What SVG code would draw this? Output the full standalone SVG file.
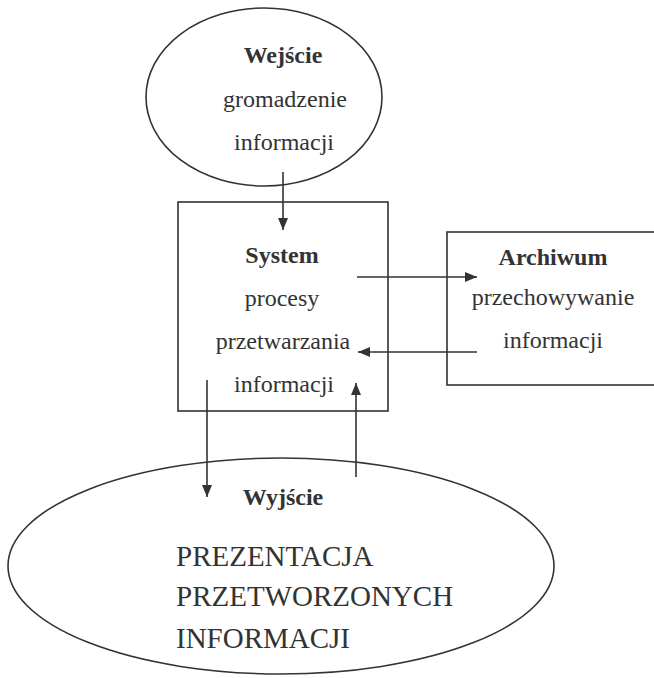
<svg xmlns="http://www.w3.org/2000/svg" width="654" height="678" viewBox="0 0 654 678">
<defs>
<style>
.shape{fill:none;stroke:#333;stroke-width:1.6}
.t{font-family:"Liberation Serif","Times New Roman",serif;font-size:24px;fill:#333;text-anchor:middle}
.b{font-weight:bold}
.cap{font-family:"Liberation Serif","Times New Roman",serif;font-size:29px;fill:#333}
.conn{fill:none;stroke:#333;stroke-width:1.6}
</style>
<marker id="ah" viewBox="0 0 12 10" refX="12" refY="5" markerWidth="12" markerHeight="10" markerUnits="userSpaceOnUse" orient="auto">
<path d="M0,0 L12,5 L0,10 Z" fill="#333"/>
</marker>
</defs>
<rect width="654" height="678" fill="#fff"/>
<g id="wejscie">
<ellipse class="shape" cx="264" cy="97" rx="118" ry="89"/>
<text class="t b" x="283" y="63">Wejście</text>
<text class="t" x="285" y="107">gromadzenie</text>
<text class="t" x="284" y="150">informacji</text>
</g>
<g id="system">
<rect class="shape" x="178" y="202" width="210" height="209"/>
<text class="t b" x="282" y="263">System</text>
<text class="t" x="282" y="306">procesy</text>
<text class="t" x="283" y="349">przetwarzania</text>
<text class="t" x="284" y="392">informacji</text>
</g>
<g id="archiwum">
<rect class="shape" x="447" y="232" width="215" height="153"/>
<text class="t b" x="553" y="265">Archiwum</text>
<text class="t" x="553" y="305">przechowywanie</text>
<text class="t" x="553" y="348">informacji</text>
</g>
<g id="wyjscie">
<ellipse class="shape" cx="281" cy="566" rx="273" ry="108"/>
<text class="t b" x="283" y="505">Wyjście</text>
<text class="cap" x="176" y="566">PREZENTACJA</text>
<text class="cap" x="176" y="606">PRZETWORZONYCH</text>
<text class="cap" x="176" y="648">INFORMACJI</text>
</g>
<g id="connectors">
<line class="conn" x1="283" y1="172" x2="283" y2="230" marker-end="url(#ah)"/>
<line class="conn" x1="357" y1="277" x2="477" y2="277" marker-end="url(#ah)"/>
<line class="conn" x1="477" y1="352" x2="358" y2="352" marker-end="url(#ah)"/>
<line class="conn" x1="207" y1="380" x2="207" y2="497" marker-end="url(#ah)"/>
<line class="conn" x1="356" y1="477" x2="356" y2="383" marker-end="url(#ah)"/>
</g>
</svg>
